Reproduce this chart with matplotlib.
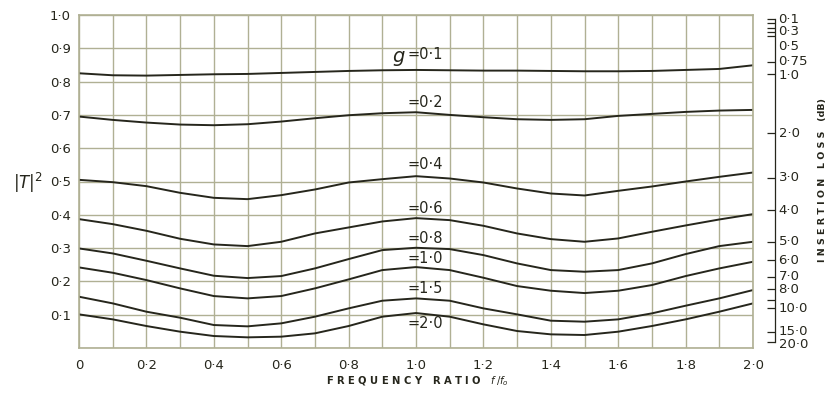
import numpy as np
import matplotlib
matplotlib.use("Agg")
import matplotlib.pyplot as plt

# ---------------- data ----------------
freq_ratio = [0.0, 0.1, 0.2, 0.3, 0.4, 0.5, 0.6, 0.7, 0.8, 0.9, 1.0,
              1.1, 1.2, 1.3, 1.4, 1.5, 1.6, 1.7, 1.8, 1.9, 2.0]

g_values = ['0·1', '0·2', '0·4', '0·6', '0·8', '1·0', '1·5', '2·0']

t_g01 = [0.825, 0.819, 0.818, 0.820, 0.822, 0.823, 0.826, 0.829, 0.832, 0.834, 0.835,
         0.834, 0.833, 0.833, 0.832, 0.831, 0.831, 0.832, 0.835, 0.838, 0.849]
t_g02 = [0.695, 0.685, 0.677, 0.671, 0.669, 0.672, 0.680, 0.690, 0.699, 0.705, 0.708,
         0.700, 0.693, 0.687, 0.685, 0.687, 0.697, 0.703, 0.709, 0.713, 0.715]
t_g04 = [0.505, 0.498, 0.486, 0.466, 0.451, 0.447, 0.459, 0.476, 0.497, 0.507, 0.516,
         0.509, 0.497, 0.479, 0.464, 0.458, 0.472, 0.485, 0.500, 0.514, 0.527]
t_g06 = [0.387, 0.372, 0.352, 0.328, 0.311, 0.306, 0.319, 0.344, 0.362, 0.380, 0.390,
         0.384, 0.367, 0.344, 0.327, 0.319, 0.329, 0.349, 0.368, 0.386, 0.402]
t_g08 = [0.299, 0.284, 0.262, 0.239, 0.217, 0.210, 0.216, 0.239, 0.267, 0.294, 0.301,
         0.297, 0.279, 0.254, 0.234, 0.229, 0.234, 0.254, 0.282, 0.306, 0.319]
t_g10 = [0.242, 0.226, 0.204, 0.179, 0.156, 0.149, 0.156, 0.179, 0.206, 0.234, 0.243,
         0.234, 0.211, 0.186, 0.172, 0.165, 0.172, 0.189, 0.216, 0.239, 0.259]
t_g15 = [0.154, 0.134, 0.109, 0.091, 0.069, 0.065, 0.074, 0.094, 0.119, 0.142, 0.149,
         0.142, 0.119, 0.101, 0.082, 0.079, 0.086, 0.104, 0.127, 0.149, 0.174]
t_g20 = [0.101, 0.086, 0.066, 0.049, 0.036, 0.032, 0.034, 0.044, 0.066, 0.094, 0.105,
         0.094, 0.071, 0.051, 0.041, 0.039, 0.049, 0.066, 0.086, 0.109, 0.134]
series = [t_g01, t_g02, t_g04, t_g06, t_g08, t_g10, t_g15, t_g20]

x_tick_vals = [0.0, 0.2, 0.4, 0.6, 0.8, 1.0, 1.2, 1.4, 1.6, 1.8, 2.0]
x_tick_labels = ['0', '0·2', '0·4', '0·6', '0·8', '1·0', '1·2', '1·4', '1·6', '1·8', '2·0']
y_tick_vals = [0.1, 0.2, 0.3, 0.4, 0.5, 0.6, 0.7, 0.8, 0.9, 1.0]
y_tick_labels = ['0·1', '0·2', '0·3', '0·4', '0·5', '0·6', '0·7', '0·8', '0·9', '1·0']

# insertion-loss scale (positions as drawn in the original, in |T|^2 units)
loss_tick_pos = [0.988, 0.976, 0.962, 0.949, 0.937, 0.860, 0.823, 0.645, 0.512,
                 0.414, 0.319, 0.264, 0.214, 0.176, 0.145, 0.119, 0.049, 0.019]
loss_labels = ['0·1', '0·3', '0·5', '0·75', '1·0', '2·0', '3·0', '4·0', '5·0',
               '6·0', '7·0', '8·0', '10·0', '15·0', '20·0']
loss_label_pos = [0.985, 0.950, 0.905, 0.859, 0.818, 0.645, 0.512, 0.414, 0.319,
                  0.264, 0.214, 0.176, 0.119, 0.049, 0.010]

# curve label positions (x, y in data units)
curve_label_x = [0.975] * 8
curve_label_y = [0.880, 0.736, 0.550, 0.420, 0.330, 0.270, 0.180, 0.075]

# ---------------- drawing ----------------
ink = '#26261c'
gridc = '#b0b094'
plt.rcParams['font.family'] = ['DejaVu Sans']

fig = plt.figure(figsize=(8.33, 4.0), dpi=100)
ax = fig.add_axes([79 / 833, 52 / 400, 674 / 833, 333 / 400])
ax.set_xlim(0, 2.0)
ax.set_ylim(0, 1.0)

ax.set_xticks(np.arange(0, 2.01, 0.1), minor=True)
ax.set_yticks(np.arange(0, 1.01, 0.1), minor=True)
ax.grid(True, which='both', color=gridc, lw=1.0)
ax.set_axisbelow(True)
for s in ax.spines.values():
    s.set_color(gridc)
    s.set_linewidth(1.2)

ax.set_xticks(x_tick_vals)
ax.set_xticklabels(x_tick_labels, fontsize=9.5, color=ink)
ax.set_yticks(y_tick_vals)
ax.set_yticklabels(y_tick_labels, fontsize=9.5, color=ink)
ax.tick_params(which='both', length=0)
ax.tick_params(axis='x', pad=8)
ax.tick_params(axis='y', pad=6)

for vals in series:
    ax.plot(freq_ratio, vals, color=ink, lw=1.4, solid_capstyle='round')

for i, (lab, lx, ly) in enumerate(zip(g_values, curve_label_x, curve_label_y)):
    ax.text(lx, ly, '=' + lab, fontsize=10.5, color=ink, ha='left', va='center')
ax.text(curve_label_x[0] - 0.008, curve_label_y[0] - 0.005, 'g', fontsize=14,
        style='italic', color=ink, ha='right', va='center')

# right-hand insertion-loss scale
ax2 = ax.twinx()
ax2.set_ylim(0, 1.0)
for k in ('left', 'top', 'bottom'):
    ax2.spines[k].set_visible(False)
ax2.spines['right'].set_position(('outward', 16))
ax2.spines['right'].set_bounds(loss_tick_pos[-1], loss_tick_pos[0])
ax2.spines['right'].set_color(ink)
ax2.spines['right'].set_linewidth(0.9)
ax2.set_yticks(loss_tick_pos)
ax2.set_yticklabels([])
ax2.tick_params(axis='y', direction='in', length=6, width=0.9, color=ink)
tr = ax.get_yaxis_transform()
for lab, ly in zip(loss_labels, loss_label_pos):
    ax.text(1.038, ly, lab, transform=tr, fontsize=9.5, color=ink,
            ha='left', va='center', clip_on=False)

fig.text(822 / 833, 1 - 180 / 400, 'I N S E R T I O N   L O S S   (dB)', rotation=90,
         fontsize=6.8, color=ink, ha='center', va='center', fontweight='bold')
fig.text(417 / 833, 1 - 381 / 400, r'F R E Q U E N C Y   R A T I O   $f\,/f_o$',
         fontsize=7.2, color=ink, ha='center', va='center', fontweight='bold')
fig.text(28 / 833, 1 - 183 / 400, r'$|T|^{2}$', fontsize=12, color=ink,
         ha='center', va='center')

fig.savefig('out.png', dpi=100, facecolor='white')
